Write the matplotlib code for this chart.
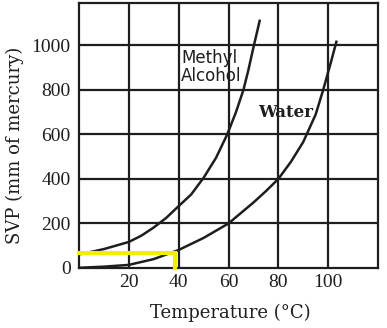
import matplotlib
matplotlib.use("Agg")
import matplotlib.pyplot as plt

# Data
methyl_T = [1, 10, 20, 25, 30, 35, 40, 45, 50, 55, 59.5, 63, 66, 68, 70, 72.5]
methyl_P = [63, 85, 117, 145, 182, 225, 278, 330, 405, 495, 600, 700, 800, 890, 990, 1110]
water_T = [0, 10, 20, 30, 40, 50, 60, 70, 75, 80, 85, 90, 95, 98, 101, 103.3]
water_P = [1, 6, 14, 40, 81, 135, 200, 294, 345, 400, 476, 566, 690, 800, 920, 1016]
x_ticks = [20, 40, 60, 80, 100]
y_ticks = [0, 200, 400, 600, 800, 1000]
marker_T = 38.5
marker_P = 67

fig = plt.figure(figsize=(3.87, 3.28), dpi=100)
ax = fig.add_axes([79/387, 60/328, 299/387, 265/328])
ax.set_xlim(0, 120)
ax.set_ylim(0, 1190)

# grid
for x in x_ticks:
    ax.axvline(x, color="#1e1e1e", lw=1.6, zorder=1)
for y in y_ticks[1:]:
    ax.axhline(y, color="#1e1e1e", lw=1.6, zorder=1)
for s in ax.spines.values():
    s.set_color("#1e1e1e")
    s.set_linewidth(1.6)

ax.plot(methyl_T, methyl_P, color="#1e1e1e", lw=1.8, zorder=3,
        solid_joinstyle="round")
ax.plot(water_T, water_P, color="#1e1e1e", lw=1.8, zorder=3,
        solid_joinstyle="round")

# yellow marker lines
ax.plot([0, marker_T, marker_T], [marker_P, marker_P, 0], color="#f2ee00",
        lw=3, zorder=4, solid_joinstyle="miter", clip_on=False)

ax.set_xticks(x_ticks)
ax.set_yticks(y_ticks)
ax.tick_params(length=0, pad=6, labelsize=14)
for lab in ax.get_xticklabels() + ax.get_yticklabels():
    lab.set_family("Liberation Serif")
    lab.set_color("#1e1e1e")
ax.tick_params(axis="x", pad=4)

ax.text(41, 985, "Methyl\nAlcohol", fontsize=12, family="DejaVu Sans",
        color="#1e1e1e", va="top", ha="left", linespacing=1.0, zorder=5)
ax.text(72, 700, "Water", fontsize=12, family="DejaVu Serif",
        color="#1e1e1e", va="center", ha="left", zorder=5, fontweight="bold")

fig.text(230/387, 1 - 313/328, "Temperature (°C)", fontsize=13,
         family="DejaVu Serif", color="#1e1e1e", ha="center", va="center")
fig.text(15/387, 1 - 145/328, "SVP (mm of mercury)", fontsize=13,
         family="DejaVu Serif", color="#1e1e1e", ha="center", va="center",
         rotation=90)

fig.savefig("out.png", dpi=100, facecolor="white")
